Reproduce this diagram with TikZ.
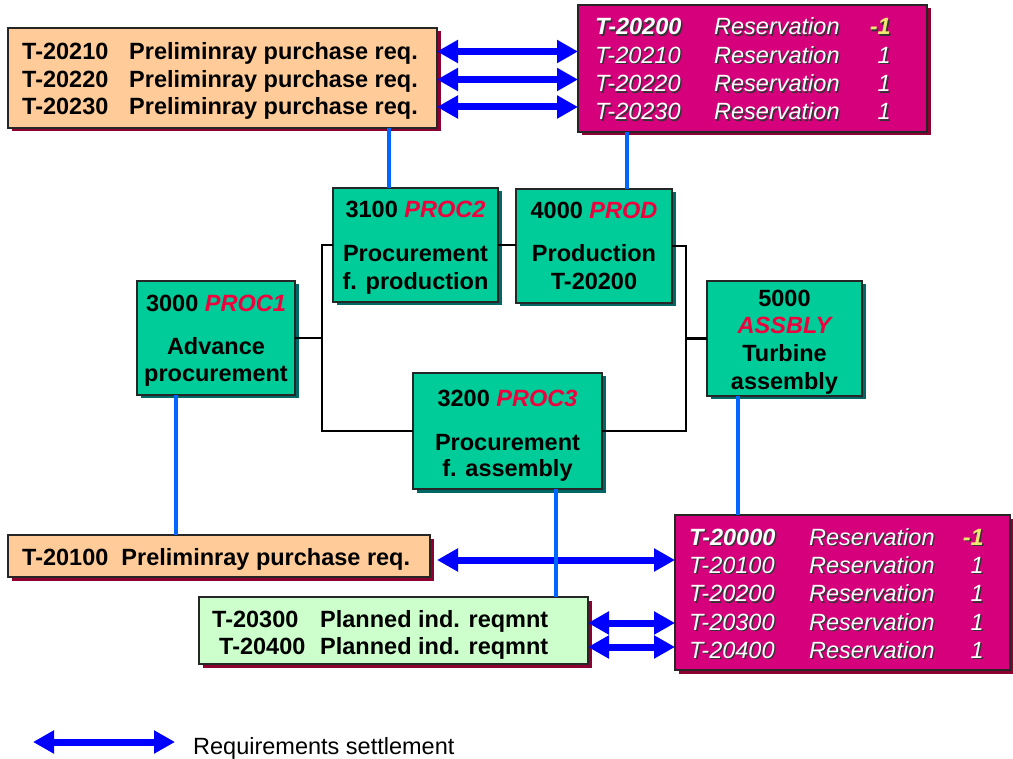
\documentclass[tikz,border=0pt]{standalone}
\usepackage{fontspec}
\setmainfont{Liberation Sans}
\usetikzlibrary{arrows.meta,shadows}

\definecolor{orangefill}{RGB}{255,204,153}
\definecolor{maroonshadow}{RGB}{140,0,50}
\definecolor{magfill}{RGB}{214,0,124}
\definecolor{greenfill}{RGB}{0,204,153}
\definecolor{tealshadow}{RGB}{0,102,102}
\definecolor{paleGreen}{RGB}{204,255,204}
\definecolor{labred}{RGB}{240,0,60}
\definecolor{settleblue}{RGB}{0,0,255}
\definecolor{linkblue}{RGB}{0,102,255}
\definecolor{minusyellow}{RGB}{240,232,110}

% white text with a small dark drop shadow
\newcommand\shadowed[2]{\rlap{\hspace{1.4pt}\raisebox{-1.4pt}{\textcolor{black!80}{#2}}}\textcolor{#1}{#2}}

\begin{document}
\begin{tikzpicture}[x=1pt,y=-1pt,
  base/.style={anchor=north west, inner sep=0pt, outer sep=0pt, draw=black!85, line width=1.3pt},
  obox/.style={base, fill=orangefill, drop shadow={shadow xshift=3.5pt, shadow yshift=-3.5pt, fill=maroonshadow, opacity=1}},
  mbox/.style={base, fill=magfill, drop shadow={shadow xshift=3.5pt, shadow yshift=-3.5pt, fill=maroonshadow, opacity=1}},
  gbox/.style={base, fill=greenfill, drop shadow={shadow xshift=3.5pt, shadow yshift=-3.5pt, fill=tealshadow, opacity=1}},
  lbox/.style={base, fill=paleGreen, drop shadow={shadow xshift=3.5pt, shadow yshift=-3.5pt, fill=maroonshadow, opacity=1}},
  txt/.style={inner sep=0pt, anchor=base, font=\fontsize{23.5}{28}\selectfont\bfseries},
  ltxt/.style={txt, anchor=base west},
  rtxt/.style={inner sep=0pt, anchor=base west, font=\fontsize{23.5}{28}\selectfont\itshape},
  ntxt/.style={rtxt, anchor=base east},
  tree/.style={line width=2.8pt, black},
  link/.style={line width=3.2pt, linkblue},
  settle/.style={line width=7pt, settleblue,
    {Triangle[width=22pt,length=21pt]}-{Triangle[width=22pt,length=21pt]}},
]
\useasboundingbox (0,0) rectangle (1013,759);

% junctions of the activity network
\coordinate (jl) at (322,338);
\coordinate (jr) at (686,338.5);

% ---------- boxes ----------
\node[obox, minimum width=429pt, minimum height=100pt] (o1) at (8,28) {};
\node[mbox, minimum width=349pt, minimum height=127pt] (m1) at (578,5) {};
\node[gbox, minimum width=165pt, minimum height=114pt] (p2) at (333,188) {};
\node[gbox, minimum width=156pt, minimum height=114pt] (pr) at (516,189) {};
\node[gbox, minimum width=158pt, minimum height=114pt] (p1) at (137,281) {};
\node[gbox, minimum width=155pt, minimum height=115pt] (asm) at (707,281) {};
\node[gbox, minimum width=189pt, minimum height=116pt] (p3) at (413,373) {};
\node[obox, minimum width=422pt, minimum height=42pt] (ob) at (8,535) {};
\node[lbox, minimum width=389pt, minimum height=67pt] (gb) at (199,597) {};
\node[mbox, minimum width=335pt, minimum height=155pt] (mb) at (675,515) {};

% tree lines
\draw[tree] (p1.east) -- (p1.east -| jl);
\draw[tree] (p2.west) -| (jl);
\draw[tree] (p3.west) -| (jl);
\draw[tree] (p2.east) -- (p2.east -| pr.west);
\draw[tree] (pr.east) -| (jr);
\draw[tree] (p3.east) -| (jr);
\draw[tree] (asm.west) -- (asm.west -| jr);

% ---------- requirement settlement arrows ----------
\coordinate (r1) at (0,51.5);
\coordinate (r2) at (0,79.5);
\coordinate (r3) at (0,107);
\coordinate (r4) at (0,560);
\coordinate (r5) at (0,623);
\coordinate (r6) at (0,647);
\draw[settle] (o1.east |- r1) -- (m1.west |- r1);
\draw[settle] (o1.east |- r2) -- (m1.west |- r2);
\draw[settle] (o1.east |- r3) -- (m1.west |- r3);
\draw[settle, shorten <=7pt] (ob.east |- r4) -- (mb.west |- r4);
\draw[settle] (gb.east |- r5) -- (mb.west |- r5);
\draw[settle] (gb.east |- r6) -- (mb.west |- r6);

% ---------- blue links ----------
\coordinate (v1) at (389,0);
\coordinate (v2) at (627,0);
\coordinate (v3) at (176,0);
\coordinate (v4) at (556,0);
\coordinate (v5) at (738,0);
\draw[link] (v1 |- o1.south) -- (v1 |- p2.north);
\draw[link] (v2 |- m1.south) -- (v2 |- pr.north);
\draw[link] (v3 |- p1.south) -- (v3 |- ob.north);
\draw[link] (v4 |- p3.south) -- (v4 |- gb.north);
\draw[link] (v5 |- asm.south) -- (v5 |- mb.north);

% ---------- texts: preliminary purchase requisitions ----------
\node[ltxt] (o1a) at (22,60) {T-20210};
\node[ltxt] (o1b) at (129,60) {Preliminray purchase req.};
\node[ltxt] (o1c) at (22,87.5) {T-20220};
\node[ltxt] (o1d) at (129,87.5) {Preliminray purchase req.};
\node[ltxt] (o1e) at (22,115) {T-20230};
\node[ltxt] (o1f) at (129,115) {Preliminray purchase req.};
\node[ltxt] (oba) at (22,565.5) {T-20100\ \ Preliminray purchase req.};

% ---------- texts: reservations (top) ----------
\node[rtxt] (m1a) at (595,35) {\shadowed{white}{\bfseries T-20200}};
\node[rtxt] (m1b) at (714,35) {\shadowed{white}{Reservation}};
\node[ntxt] (m1c) at (891,35) {\shadowed{minusyellow}{\bfseries -1}};
\node[rtxt] (m1d) at (595,63.3) {\shadowed{white}{T-20210}};
\node[rtxt] (m1e) at (714,63.3) {\shadowed{white}{Reservation}};
\node[ntxt] (m1f) at (891,63.3) {\shadowed{white}{1}};
\node[rtxt] (m1g) at (595,91.7) {\shadowed{white}{T-20220}};
\node[rtxt] (m1h) at (714,91.7) {\shadowed{white}{Reservation}};
\node[ntxt] (m1i) at (891,91.7) {\shadowed{white}{1}};
\node[rtxt] (m1j) at (595,120) {\shadowed{white}{T-20230}};
\node[rtxt] (m1k) at (714,120) {\shadowed{white}{Reservation}};
\node[ntxt] (m1l) at (891,120) {\shadowed{white}{1}};

% ---------- texts: reservations (bottom) ----------
\node[rtxt] (mba) at (689,545) {\shadowed{white}{\bfseries T-20000}};
\node[rtxt] (mbb) at (809,545) {\shadowed{white}{Reservation}};
\node[ntxt] (mbc) at (984,545) {\shadowed{minusyellow}{\bfseries -1}};
\node[rtxt] (mbd) at (689,573.3) {\shadowed{white}{T-20100}};
\node[rtxt] (mbe) at (809,573.3) {\shadowed{white}{Reservation}};
\node[ntxt] (mbf) at (984,573.3) {\shadowed{white}{1}};
\node[rtxt] (mbg) at (689,601.7) {\shadowed{white}{T-20200}};
\node[rtxt] (mbh) at (809,601.7) {\shadowed{white}{Reservation}};
\node[ntxt] (mbi) at (984,601.7) {\shadowed{white}{1}};
\node[rtxt] (mbj) at (689,630) {\shadowed{white}{T-20300}};
\node[rtxt] (mbk) at (809,630) {\shadowed{white}{Reservation}};
\node[ntxt] (mbl) at (984,630) {\shadowed{white}{1}};
\node[rtxt] (mbm) at (689,658.3) {\shadowed{white}{T-20400}};
\node[rtxt] (mbn) at (809,658.3) {\shadowed{white}{Reservation}};
\node[ntxt] (mbo) at (984,658.3) {\shadowed{white}{1}};

% ---------- texts: planned independent requirements ----------
\node[ltxt] (gba) at (212,627.5) {T-20300};
\node[ltxt] (gbb) at (320,627.5) {Planned ind. reqmnt};
\node[ltxt] (gbc) at (219,654.5) {T-20400};
\node[ltxt] (gbd) at (320,654.5) {Planned ind. reqmnt};

% ---------- texts: network activities ----------
\node[txt] (p2a) at (415.5,217.7) {3100 \textcolor{labred}{\itshape PROC2}};
\node[txt] (p2b) at (415.5,261.7) {Procurement};
\node[txt] (p2c) at (415.5,290) {f. production};

\node[txt] (pra) at (594,218.3) {4000 \textcolor{labred}{\itshape PROD}};
\node[txt] (prb) at (594,261.7) {Production};
\node[txt] (prc) at (594,290) {T-20200};

\node[txt] (p1a) at (216,311.7) {3000 \textcolor{labred}{\itshape PROC1}};
\node[txt] (p1b) at (216,355) {Advance};
\node[txt] (p1c) at (216,381.7) {procurement};

\node[txt] (asma) at (784.5,306.7) {5000};
\node[txt] (asmb) at (784.5,334) {\textcolor{labred}{\itshape ASSBLY}};
\node[txt] (asmc) at (784.5,361.7) {Turbine};
\node[txt] (asmd) at (784.5,390) {assembly};

\node[txt] (p3a) at (507.5,406.7) {3200 \textcolor{labred}{\itshape PROC3}};
\node[txt] (p3b) at (507.5,450) {Procurement};
\node[txt] (p3c) at (507.5,477) {f. assembly};

% ---------- legend ----------
\coordinate (la) at (33,742);
\coordinate (lb) at (175,742);
\draw[settle] (la) -- (lb);
\node[inner sep=0pt, anchor=base west, font=\fontsize{23.5}{28}\selectfont] (legend) at (193,754) {Requirements settlement};
\end{tikzpicture}
\end{document}
